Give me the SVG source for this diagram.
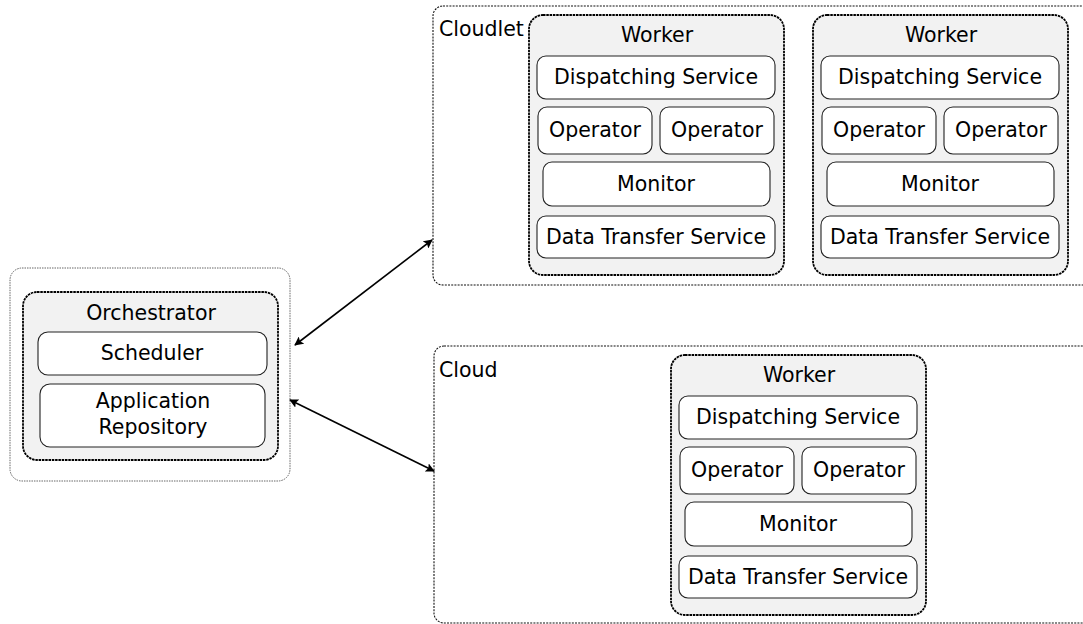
<svg xmlns="http://www.w3.org/2000/svg" width="1083" height="624" viewBox="0 0 1083 624">
<defs>
<style>
text{font-family:"DejaVu Sans","Liberation Sans",sans-serif;font-size:20.5px;fill:#000;text-anchor:middle}
.lbl{text-anchor:start}
.zone{fill:none;stroke:#111;stroke-width:1.1;stroke-dasharray:2,1.2}
.outer{fill:#fff;stroke:#666;stroke-width:1;stroke-dasharray:1.5,1}
.group{fill:#f2f2f2;stroke:#000;stroke-width:1.8;stroke-dasharray:2.5,0.8}
.box{fill:#fff;stroke:#222;stroke-width:1.1}
.conn{stroke:#000;stroke-width:1.6;fill:none}
</style>
<marker id="ah" viewBox="0 0 10 10" refX="9" refY="5" markerWidth="9" markerHeight="9" markerUnits="userSpaceOnUse" orient="auto-start-reverse">
<path d="M0,0 L10,5 L0,10 L2,5 Z" fill="#000"/>
</marker>
<g id="worker-tpl">
<rect class="group" x="0" y="0" width="255" height="260" rx="14"/>
<text x="128" y="27">Worker</text>
<rect class="box" x="8" y="41" width="238" height="43" rx="9"/>
<text x="127" y="69">Dispatching Service</text>
<rect class="box" x="9" y="92" width="114" height="47" rx="9"/>
<text x="66" y="122">Operator</text>
<rect class="box" x="131" y="92" width="114" height="47" rx="9"/>
<text x="188" y="122">Operator</text>
<rect class="box" x="14" y="147" width="227" height="44" rx="9"/>
<text x="127" y="176">Monitor</text>
<rect class="box" x="8" y="201" width="238" height="42" rx="9"/>
<text x="127" y="229">Data Transfer Service</text>
</g>
</defs>
<rect width="1083" height="624" fill="#fff"/>

<g id="cloudlet">
<rect class="zone" x="433" y="6" width="680" height="279" rx="10"/>
<text class="lbl" x="439" y="36">Cloudlet</text>
</g>
<g id="cloud">
<rect class="zone" x="434" y="346" width="680" height="277" rx="10"/>
<text class="lbl" x="439" y="377">Cloud</text>
</g>

<g id="orchestrator-host">
<rect class="outer" x="10" y="268" width="280" height="213" rx="12"/>
</g>
<g id="orchestrator">
<rect class="group" x="23" y="292" width="255" height="168" rx="14"/>
<text x="151" y="320">Orchestrator</text>
</g>
<g id="scheduler">
<rect class="box" x="38" y="332" width="229" height="43" rx="10"/>
<text x="152" y="360">Scheduler</text>
</g>
<g id="app-repo">
<rect class="box" x="40" y="384" width="225" height="63" rx="10"/>
<text x="153" y="408">Application</text>
<text x="153" y="434">Repository</text>
</g>

<g id="worker-cloudlet-1"><use href="#worker-tpl" x="529" y="15"/></g>
<g id="worker-cloudlet-2"><use href="#worker-tpl" x="813" y="15"/></g>
<g id="worker-cloud"><use href="#worker-tpl" x="671" y="355"/></g>

<g id="connectors">
<line class="conn" x1="295" y1="345" x2="432" y2="240" marker-start="url(#ah)" marker-end="url(#ah)"/>
<line class="conn" x1="290" y1="400" x2="434" y2="471" marker-start="url(#ah)" marker-end="url(#ah)"/>
</g>
</svg>
